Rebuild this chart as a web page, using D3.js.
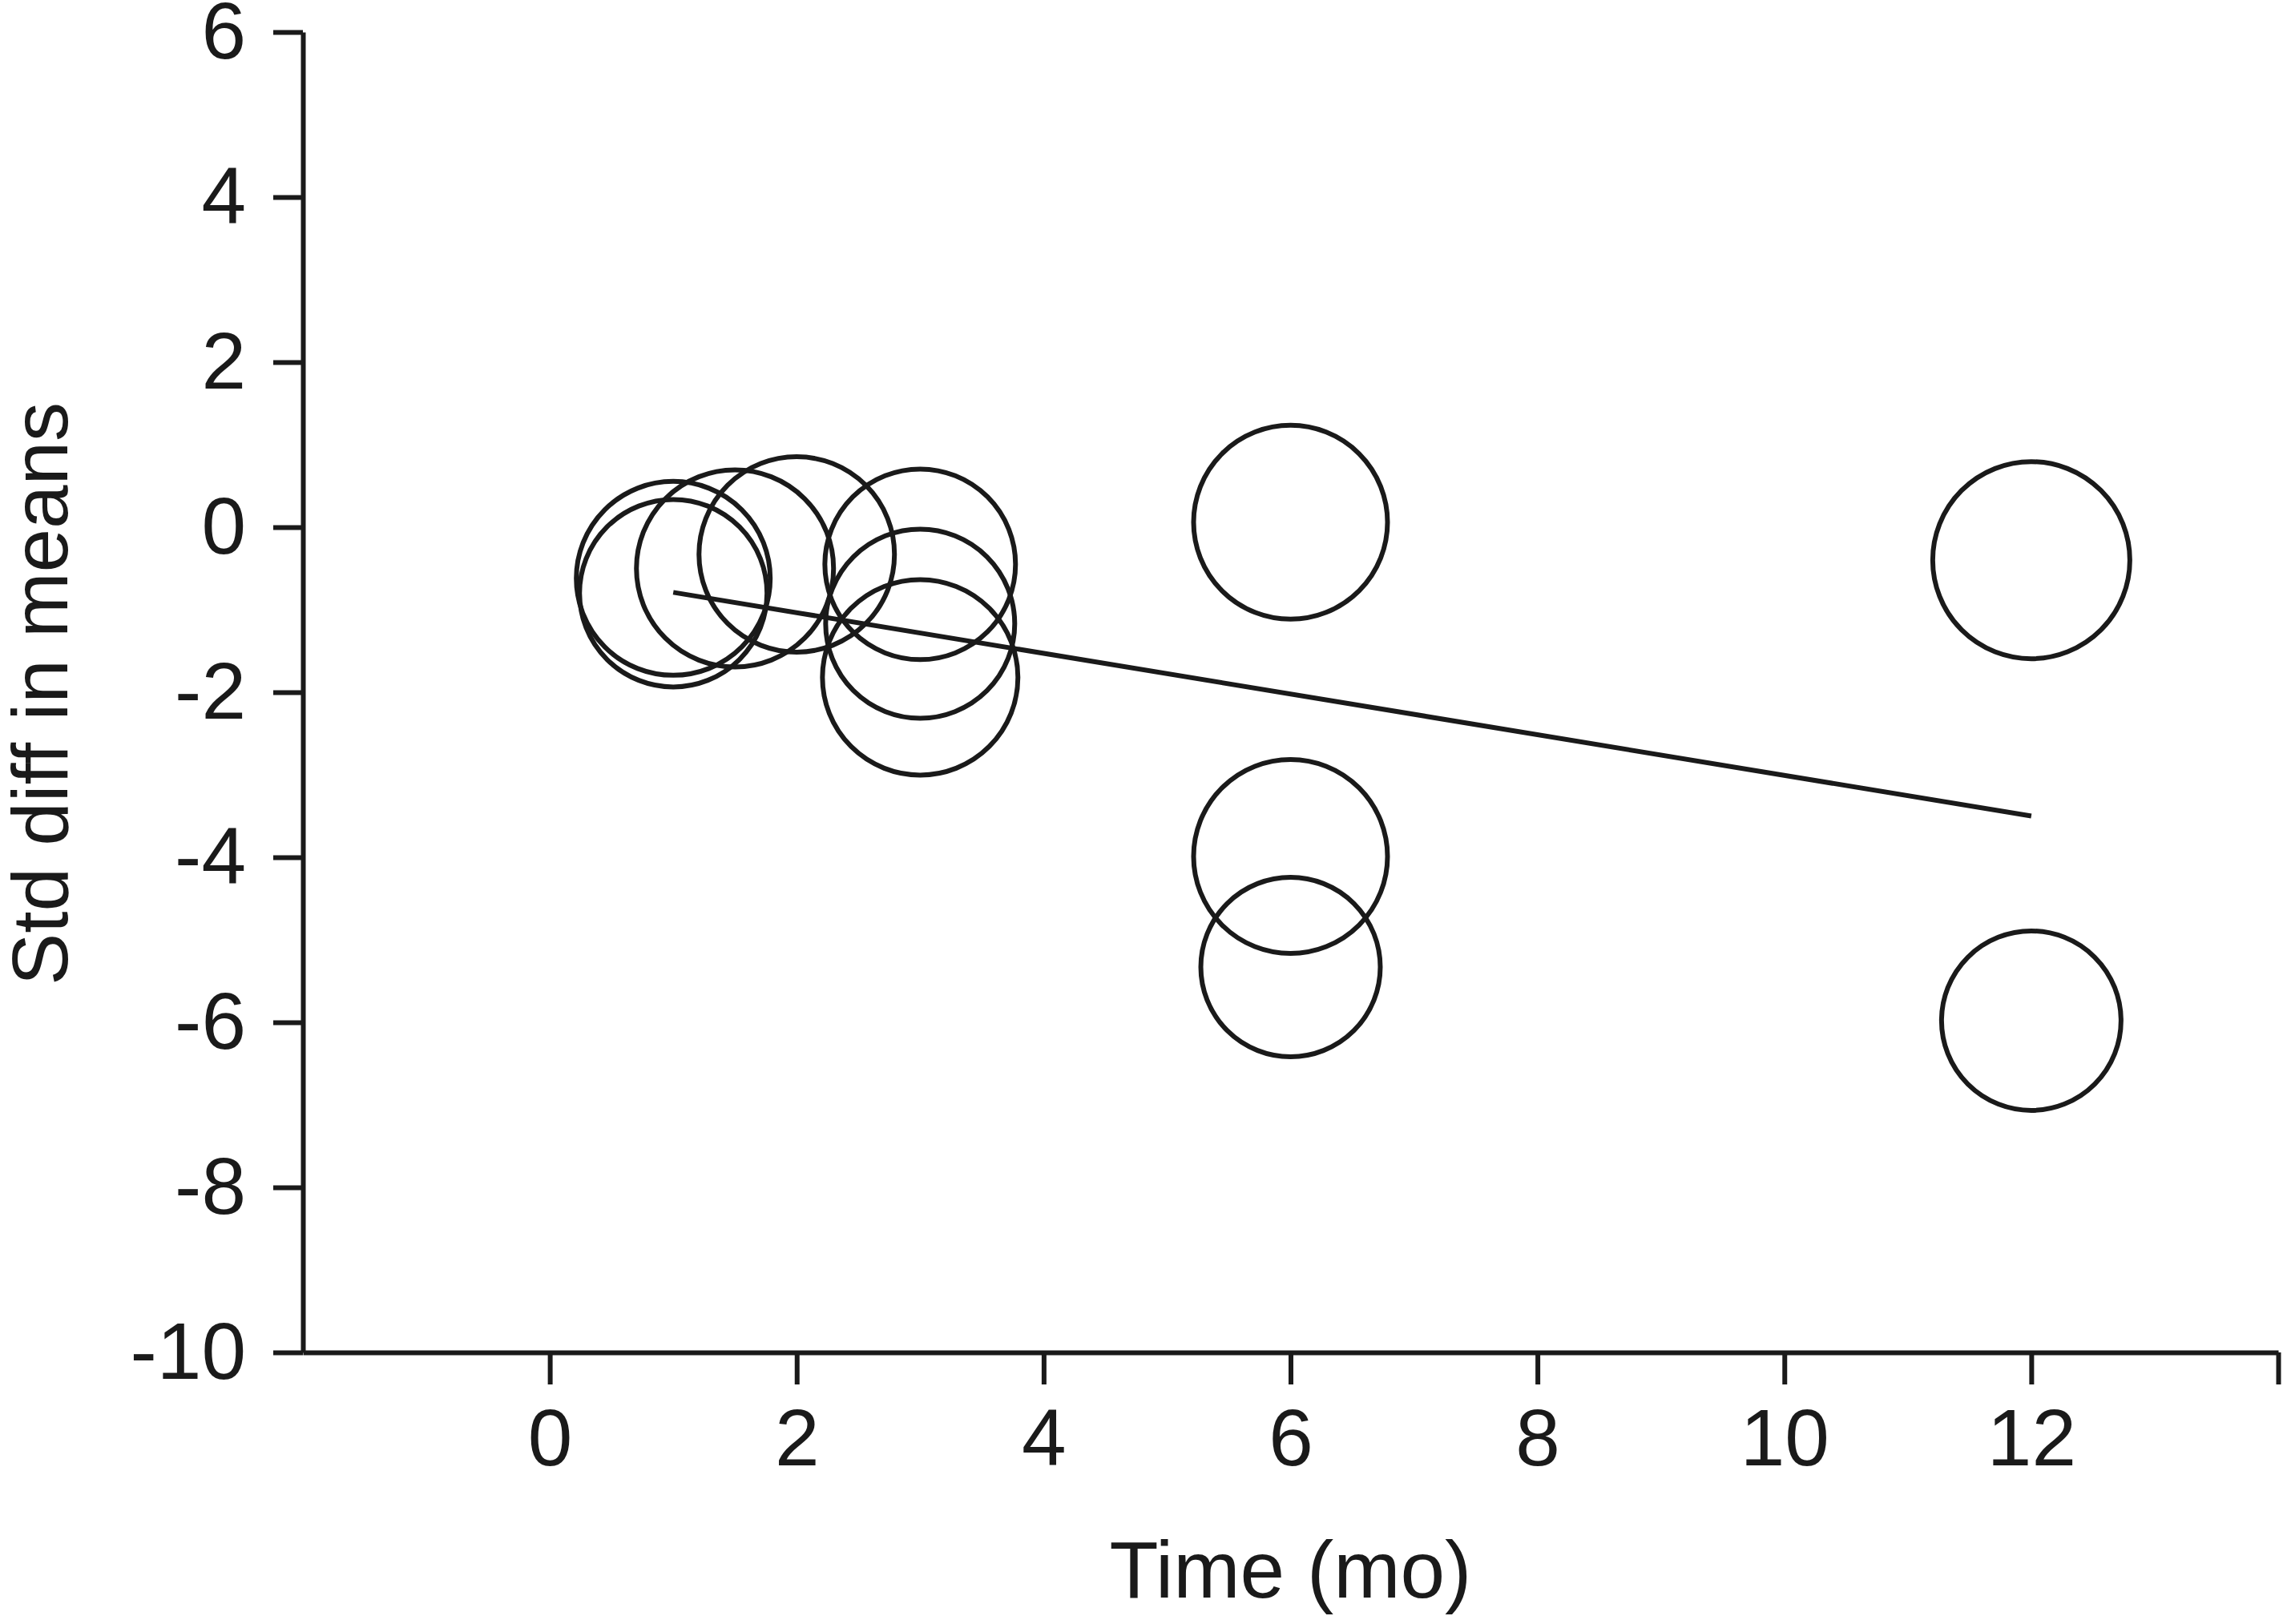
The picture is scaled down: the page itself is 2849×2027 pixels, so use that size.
<!DOCTYPE html>
<html>
<head>
<meta charset="utf-8">
<script src="https://cdn.jsdelivr.net/npm/d3@7"></script>
<style>
body { margin: 0; background: #fff; }
text { font-family: "Liberation Sans", Arial, sans-serif; fill: #1a1a1a; }
</style>
</head>
<body>
<svg width="2849" height="2027"></svg>
<script>
// study points: follow-up time (months), std diff in means, relative weight
var times   = [1, 1, 1.5, 2, 3, 3, 3, 6, 6, 6, 12, 12];
var effects = [-0.62, -0.80, -0.50, -0.33, -0.45, -1.17, -1.82, 0.06, -3.99, -5.33, -0.40, -5.98];
var weights = [8.71, 8.14, 9.0, 8.85, 8.42, 8.28, 8.85, 8.71, 8.71, 7.46, 9.0, 7.46];

// regression line end points
var lineTimes   = [1, 12];
var lineEffects = [-0.79, -3.50];

var xTicks = [0, 2, 4, 6, 8, 10, 12, 14];
var xTickLabels = ["0", "2", "4", "6", "8", "10", "12", ""];
var yTicks = [6, 4, 2, 0, -2, -4, -6, -8, -10];

var padding = {left: 378, right: 6, top: 40, bottom: 339};
var width = 2849;
var height = 2027;
var ink = "#1a1a1a";
var strokeW = 6;

var xScale = d3.scaleLinear()
.domain([-2, 14])
.range([padding.left, width - padding.right]);

var yScale = d3.scaleLinear()
.domain([-10, 6])
.range([height - padding.bottom, padding.top]);

var rScale = d3.scaleSqrt()
.domain([0, d3.max(weights)])
.range([0, 123]);

var svg = d3.select('svg');

var points = times.map(function(t, i){
	return {t: t, e: effects[i], w: weights[i]};
});

svg.append('g')
.selectAll('circle')
.data(points)
.enter()
.append('circle')
.attr('cx', function(d){ return xScale(d.t); })
.attr('cy', function(d){ return yScale(d.e); })
.attr('r', function(d){ return rScale(d.w); })
.attr('fill', 'none')
.attr('stroke', ink)
.attr('stroke-width', strokeW);

var line = d3.line()
.x(function(d){ return xScale(d[0]); })
.y(function(d){ return yScale(d[1]); });

svg.append('path')
.datum(lineTimes.map(function(t, i){ return [t, lineEffects[i]]; }))
.attr('d', line)
.attr('fill', 'none')
.attr('stroke', ink)
.attr('stroke-width', strokeW);

var xaxis = d3.axisBottom(xScale)
.tickValues(xTicks)
.tickFormat(function(d, i){ return xTickLabels[i]; })
.tickSizeInner(40)
.tickSizeOuter(0)
.tickPadding(30);

var yaxis = d3.axisLeft(yScale)
.tickValues(yTicks)
.tickSizeInner(37)
.tickSizeOuter(0)
.tickPadding(34);

var gx = svg.append('g')
.attr("transform", "translate(0," + yScale(-10) + ")")
.call(xaxis);

var gy = svg.append('g')
.attr("transform", "translate(" + xScale(-2) + ",0)")
.call(yaxis);

[gx, gy].forEach(function(g){
	g.selectAll('path, line')
	.attr('stroke', ink)
	.attr('stroke-width', strokeW);
	g.selectAll('text')
	.attr('font-size', 100)
	.attr('font-family', '"Liberation Sans", Arial, sans-serif')
	.attr('fill', ink);
});

// plain hyphen for negatives, as in the original
gy.selectAll('text').text(function(d){ return String(d); });

svg.append('text')
.attr('x', (xScale(-2) + xScale(14)) / 2)
.attr('y', 1994)
.attr('text-anchor', 'middle')
.attr('font-size', 100)
.text('Time (mo)');

svg.append('text')
.attr('transform', 'translate(84,866) rotate(-90)')
.attr('text-anchor', 'middle')
.attr('font-size', 98)
.text('Std diff in means');
</script>
</body>
</html>
